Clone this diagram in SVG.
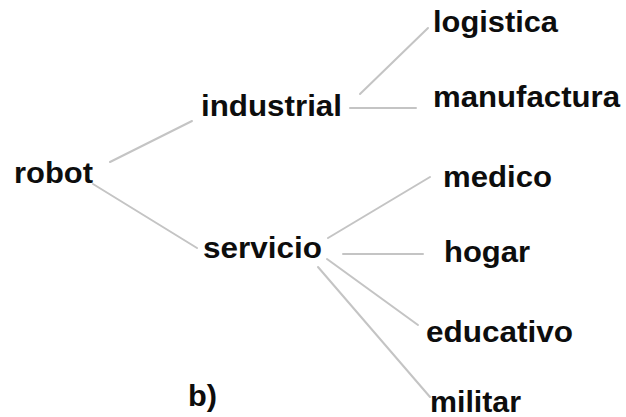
<svg xmlns="http://www.w3.org/2000/svg" width="626" height="417" viewBox="0 0 626 417">
  <style>
    .lbl { font-family: "Liberation Sans", Arial, sans-serif; font-weight: bold; font-size: 29px; fill: #0d0d0d; }
    .edge { stroke: #c4c4c4; stroke-width: 2; fill: none; stroke-linecap: round; }
  </style>
  <rect width="626" height="417" fill="#fff"/>
  <g id="connectors">
    <line class="edge" x1="110" y1="162" x2="192" y2="121"/>
    <line class="edge" x1="93" y1="184" x2="197" y2="248"/>
    <line class="edge" x1="360" y1="94" x2="428" y2="28"/>
    <line class="edge" x1="350" y1="108" x2="416" y2="108"/>
    <line class="edge" x1="328" y1="238" x2="430" y2="177"/>
    <line class="edge" x1="343" y1="254" x2="423" y2="254"/>
    <line class="edge" x1="327" y1="259" x2="418" y2="325"/>
    <line class="edge" x1="318" y1="267" x2="430" y2="397"/>
  </g>
  <g id="robot"><text class="lbl" x="14" y="183" textLength="79" lengthAdjust="spacingAndGlyphs">robot</text></g>
  <g id="industrial"><text class="lbl" x="201" y="116" textLength="141" lengthAdjust="spacingAndGlyphs">industrial</text></g>
  <g id="servicio"><text class="lbl" x="203" y="258" textLength="119" lengthAdjust="spacingAndGlyphs">servicio</text></g>
  <g id="logistica"><text class="lbl" x="433" y="32" textLength="125" lengthAdjust="spacingAndGlyphs">logistica</text></g>
  <g id="manufactura"><text class="lbl" x="433" y="107" textLength="187" lengthAdjust="spacingAndGlyphs">manufactura</text></g>
  <g id="medico"><text class="lbl" x="443" y="187" textLength="109" lengthAdjust="spacingAndGlyphs">medico</text></g>
  <g id="hogar"><text class="lbl" x="444" y="262" textLength="86" lengthAdjust="spacingAndGlyphs">hogar</text></g>
  <g id="educativo"><text class="lbl" x="426" y="342" textLength="147" lengthAdjust="spacingAndGlyphs">educativo</text></g>
  <g id="militar"><text class="lbl" x="430" y="412" textLength="91" lengthAdjust="spacingAndGlyphs">militar</text></g>
  <text class="lbl" x="188" y="406" textLength="29" lengthAdjust="spacingAndGlyphs">b)</text>
</svg>
